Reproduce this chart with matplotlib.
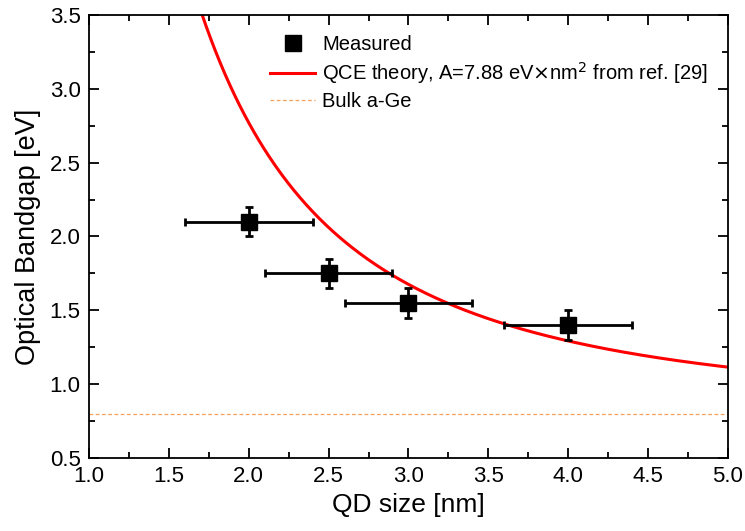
import numpy as np
import matplotlib
matplotlib.use("Agg")
import matplotlib.pyplot as plt
from matplotlib.lines import Line2D
from matplotlib.ticker import MultipleLocator

plt.rcParams["font.family"] = ["Liberation Sans", "DejaVu Sans"]

# Measured points
qd_size = [2.0, 2.5, 3.0, 4.0]
bandgap = [2.10, 1.75, 1.55, 1.40]
size_err = [0.4, 0.4, 0.4, 0.4]
gap_err = [0.1, 0.1, 0.1, 0.1]

# QCE theory: E = Eg_bulk + A / d^2
A_qce = 7.88
eg_bulk = 0.8

fig = plt.figure(figsize=(7.45, 5.31), dpi=100)
ax = fig.add_axes([0.1195, 0.1375, 0.8575, 0.8345])

d = np.linspace(1.0, 5.0, 400)
theory, = ax.plot(d, eg_bulk + A_qce / d**2, color="red", lw=2.2, zorder=2)
bulk = ax.axhline(eg_bulk, color="#f5a05a", lw=0.9, ls=(0, (3, 2)), zorder=1)
ax.errorbar(qd_size, bandgap, xerr=size_err, yerr=gap_err, fmt="s",
            color="black", ms=11, elinewidth=2, capsize=3, capthick=2,
            zorder=3)

ax.set_xlim(1.0, 5.0)
ax.set_ylim(0.5, 3.5)
ax.xaxis.set_major_locator(MultipleLocator(0.5))
ax.xaxis.set_minor_locator(MultipleLocator(0.25))
ax.yaxis.set_major_locator(MultipleLocator(0.5))
ax.yaxis.set_minor_locator(MultipleLocator(0.25))
ax.tick_params(which="both", direction="in", top=True, right=True,
               labelsize=16, width=1.3)
ax.tick_params(which="major", length=7)
ax.tick_params(which="minor", length=4)
ax.tick_params(axis="x", pad=6)
ax.tick_params(axis="y", pad=6)
for s in ax.spines.values():
    s.set_linewidth(1.3)

ax.set_xlabel("QD size [nm]", fontsize=19, labelpad=4)
ax.set_ylabel("Optical Bandgap [eV]", fontsize=19.5, labelpad=6)

# legend shows only the square for the measured points
measured = Line2D([], [], ls="none", marker="s", ms=11, color="black")
ax.legend([measured, theory, bulk],
          ["Measured",
           r"QCE theory, A=7.88 eV$\times$nm$^2$ from ref. [29]",
           "Bulk a-Ge"],
          loc="upper left", frameon=False, fontsize=14.5,
          handlelength=2.25, handletextpad=0.35, labelspacing=0.3,
          bbox_to_anchor=(252 / 745, 1 - 17 / 531),
          bbox_transform=fig.transFigure)

fig.savefig("out.png", dpi=100)
